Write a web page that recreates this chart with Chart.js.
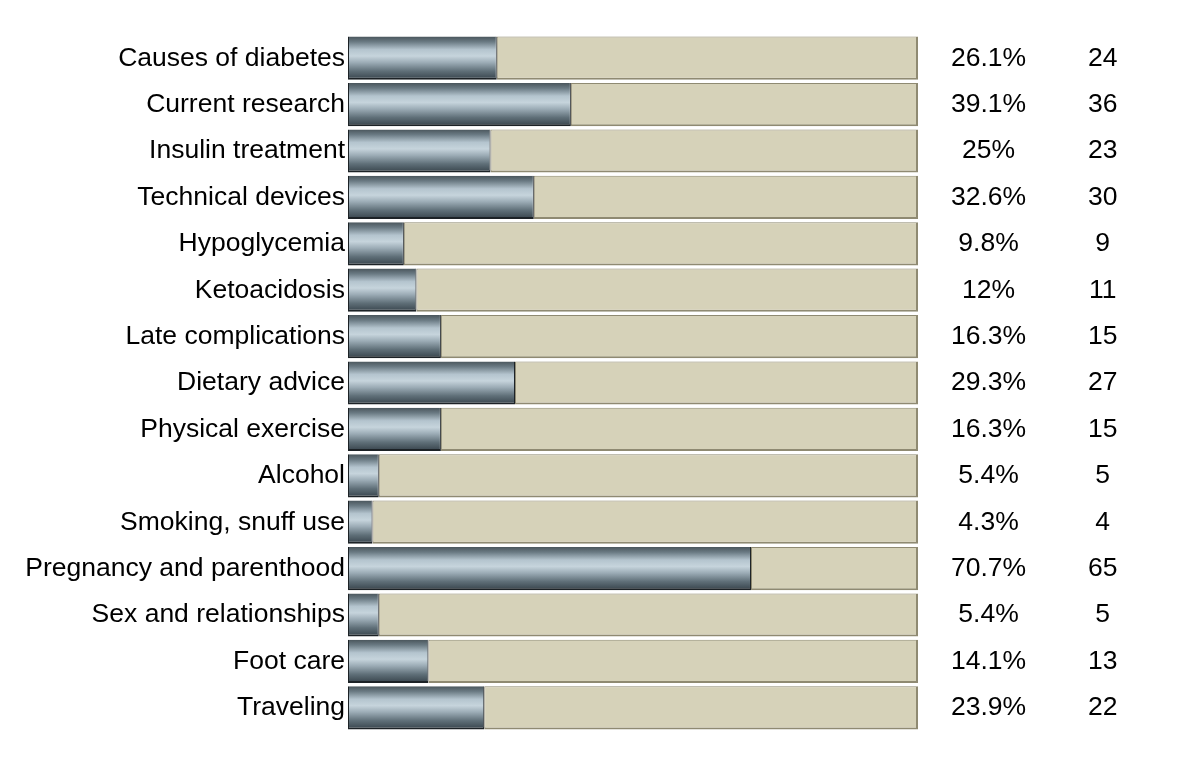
<!DOCTYPE html>
<html>
<head>
<meta charset="utf-8">
<script src="https://cdn.jsdelivr.net/npm/chart.js@4/dist/chart.umd.min.js"></script>
<style>
  html, body { margin: 0; padding: 0; background: #fff; }
  #wrap { width: 1200px; height: 774px; }
</style>
</head>
<body>
<div id="wrap"><canvas id="topicChart" width="1200" height="774"></canvas></div>
<script>
// topics
const topics = [
  'Causes of diabetes', 'Current research', 'Insulin treatment', 'Technical devices',
  'Hypoglycemia', 'Ketoacidosis', 'Late complications', 'Dietary advice',
  'Physical exercise', 'Alcohol', 'Smoking, snuff use', 'Pregnancy and parenthood',
  'Sex and relationships', 'Foot care', 'Traveling'
];
// percent
const percents = [26.1, 39.1, 25, 32.6, 9.8, 12, 16.3, 29.3, 16.3, 5.4, 4.3, 70.7, 5.4, 14.1, 23.9];
// count
const counts = [24, 36, 23, 30, 9, 11, 15, 27, 15, 5, 4, 65, 5, 13, 22];

const pctLabels = percents.map(v => v + '%');
const countLabels = counts.map(v => String(v));
const rest = percents.map(v => 100 - v);

const CAT_PCT = 0.93;

// 막대 세로 그라데이션
function metalFill(c) {
  const chart = c.chart;
  const y = chart.scales.y;
  if (!y || c.type !== 'data') return '#7d8d96';
  const cy = y.getPixelForValue(c.dataIndex);
  const h = y.height / topics.length * CAT_PCT;
  if (!isFinite(cy) || !isFinite(h) || h <= 0) return '#7d8d96';
  const g = chart.ctx.createLinearGradient(0, cy - h / 2, 0, cy + h / 2);
  g.addColorStop(0, '#4a565c');
  g.addColorStop(0.12, '#6a7a83');
  g.addColorStop(0.3, '#b4c4ce');
  g.addColorStop(0.45, '#c6d4dc');
  g.addColorStop(0.6, '#9cacb6');
  g.addColorStop(0.8, '#5f6f78');
  g.addColorStop(1, '#36424a');
  return g;
}

const font = { family: 'Arial, "Liberation Sans", sans-serif', size: 26.5 };

const topicChart = new Chart(document.getElementById('topicChart').getContext('2d'), {
  type: 'bar',
  data: {
    labels: topics,
    datasets: [
      {
        label: 'Percent',
        data: percents,
        backgroundColor: metalFill,
        borderColor: '#1c2226',
        borderWidth: { top: 0, right: 1, bottom: 2, left: 1 },
        borderSkipped: false,
        categoryPercentage: CAT_PCT,
        barPercentage: 1
      },
      {
        label: 'Rest',
        data: rest,
        backgroundColor: '#d6d2b9',
        borderColor: '#8f8a72',
        borderWidth: { top: 1, right: 2, bottom: 2, left: 1 },
        borderSkipped: false,
        categoryPercentage: CAT_PCT,
        barPercentage: 1
      }
    ]
  },
  options: {
    indexAxis: 'y',
    responsive: false,
    animation: false,
    layout: { padding: { top: 35, bottom: 43, left: 0, right: 52 } },
    scales: {
      x: {
        stacked: true,
        min: 0,
        max: 100,
        display: false
      },
      y: {
        stacked: true,
        grid: { display: false },
        border: { display: false },
        ticks: { color: '#000', font: font, padding: -5, autoSkip: false },
        afterFit: s => { s.width = 348; }
      },
      yPct: {
        type: 'category',
        labels: pctLabels,
        position: 'right',
        weight: 1,
        // tickLength로 열 위치 이동 (그리드는 숨김)
        grid: { display: false, tickLength: 33 },
        border: { display: false },
        ticks: { color: '#000', font: font, crossAlign: 'center', padding: 0, autoSkip: false },
        afterFit: s => { s.width = 140; }
      },
      yCount: {
        type: 'category',
        labels: countLabels,
        position: 'right',
        weight: 2,
        grid: { display: false, tickLength: 30 },
        border: { display: false },
        ticks: { color: '#000', font: font, crossAlign: 'center', padding: 0, autoSkip: false },
        afterFit: s => { s.width = 90; }
      }
    },
    plugins: {
      legend: { display: false },
      tooltip: { enabled: false }
    }
  }
});
</script>
</body>
</html>
